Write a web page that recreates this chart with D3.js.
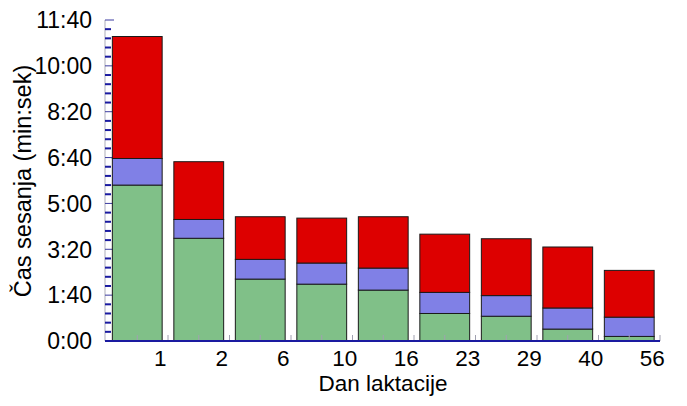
<!DOCTYPE html>
<html><head><meta charset="utf-8">
<script src="https://cdn.jsdelivr.net/npm/d3@7"></script>
<style>body{margin:0;background:#fff}svg{display:block}text{font-family:"Liberation Sans",Arial,sans-serif;fill:#000}</style>
</head><body><svg id="c" width="687" height="406"></svg>
<script>
const categories = ["1","2","6","10","16","23","29","40","56"];
const green = [340,224,135,124,111,60,54,26,10];
const blue  = [58,41,43,46,48,46,45,46,42];
const red   = [266,126,93,98,112,127,124,133,102];
const yTickValues = [0,100,200,300,400,500,600,700];
const yTickLabels = ["0:00","1:40","3:20","5:00","6:40","8:20","10:00","11:40"];
const seriesKeys = ["green","blue","red"];
const colors = {green:"#80c088", blue:"#8080e6", red:"#dd0000"};

const svg = d3.select("#c");
const x0 = 105, x1 = 660, yBottom = 341, yTop = 20;
const x = d3.scaleBand().domain(categories).range([106.5, 660]).paddingInner(0.19).paddingOuter(0.095);
const y = d3.scaleLinear().domain([0,700]).range([yBottom, yTop]);

const rows = categories.map((c,i)=>({cat:c, green:green[i], blue:blue[i], red:red[i]}));
const stack = d3.stack().keys(seriesKeys)(rows);

svg.append("line").attr("x1",x0).attr("x2",x0).attr("y1",yTop).attr("y2",yBottom)
  .attr("stroke","#c8c8d0").attr("stroke-width",1.5);

const minor = d3.range(0,701,20).filter(v=>v%100!==0);
svg.append("g").selectAll("line").data(minor).join("line")
  .attr("x1",x0).attr("x2",x0+6).attr("y1",d=>y(d)).attr("y2",d=>y(d))
  .attr("stroke","#1a1aa0").attr("stroke-width",2);
svg.append("g").selectAll("line").data(yTickValues).join("line")
  .attr("x1",x0).attr("x2",x0+9).attr("y1",d=>y(d)).attr("y2",d=>y(d))
  .attr("stroke","#3a3aa0").attr("stroke-width",1);

svg.append("g").selectAll("text").data(yTickValues).join("text")
  .attr("x",92).attr("y",d=>y(d)).attr("dy","0.36em").attr("text-anchor","end")
  .attr("font-size",23).text((d,i)=>yTickLabels[i]);

svg.append("g").selectAll("g").data(stack).join("g")
  .attr("fill",d=>colors[d.key])
  .selectAll("rect").data(d=>d).join("rect")
  .attr("x",d=>x(d.data.cat)).attr("width",x.bandwidth())
  .attr("y",d=>y(d[1])).attr("height",d=>y(d[0])-y(d[1]))
  .attr("stroke","#1a1a1a").attr("stroke-width",1);

const step = x.step();
const xt = [];
categories.forEach(c=>{ xt.push(x(c)+x.bandwidth()/2); xt.push(x(c)+x.bandwidth()+(step-x.bandwidth())/2); });
svg.append("g").selectAll("line").data(xt).join("line")
  .attr("x1",d=>d).attr("x2",d=>d).attr("y1",yBottom).attr("y2",yBottom-6)
  .attr("stroke","#a0a0b0").attr("stroke-width",1);

svg.append("line").attr("x1",x0).attr("x2",x1).attr("y1",yBottom).attr("y2",yBottom)
  .attr("stroke","#1a1aa0").attr("stroke-width",2);

svg.append("g").selectAll("text").data(categories).join("text")
  .attr("x",d=>x(d)+x.bandwidth()-2).attr("y",366).attr("text-anchor","middle")
  .attr("font-size",22.5).text(d=>d);

svg.append("text").attr("x",383).attr("y",391).attr("text-anchor","middle")
  .attr("font-size",22.5).text("Dan laktacije");
svg.append("text").attr("transform","translate(31,181) rotate(-90)").attr("text-anchor","middle")
  .attr("font-size",23.5).text("Čas sesanja (min:sek)");
</script></body></html>
